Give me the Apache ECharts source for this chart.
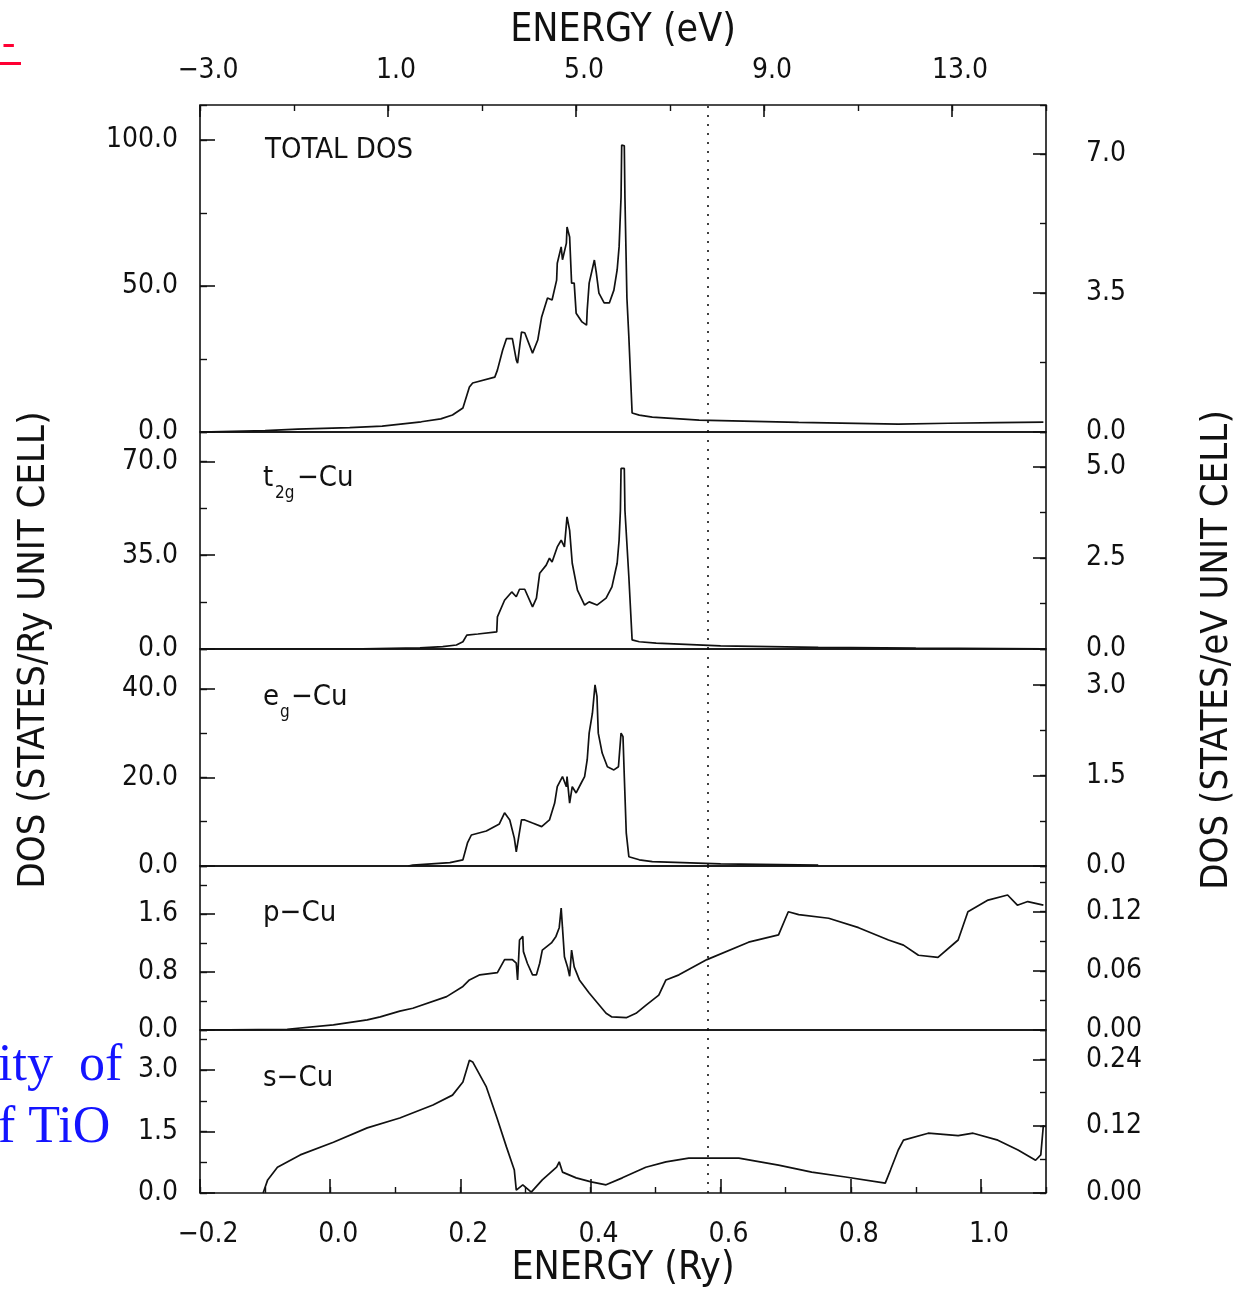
<!DOCTYPE html>
<html>
<head>
<meta charset="utf-8">
<title>Cu DOS</title>
<script src="https://cdn.jsdelivr.net/npm/echarts@6/dist/echarts.min.js"></script>
<style>
  html, body { margin: 0; padding: 0; background: #fff; }
  #chart { width: 1249px; height: 1289px; }
</style>
</head>
<body>
<div id="chart"></div>
<script>
// Conversion Ry -> eV and Fermi level (Ry)
const RY_TO_EV = 13.6057;
const FERMI_RY = 0.579;

// Energy axis range (Ry) and eV range of the upper axis
const ryRange = [-0.2, 1.1];
const evRange = [-3.0, 15.0];

// Densities of states, [energy (Ry), DOS (states/Ry unit cell)]
const totalDos = [
  [-0.20, 0.0], [-0.10, 0.5], [-0.05, 1.0], [0.03, 1.5], [0.08, 2.0], [0.14, 3.5], [0.17, 4.5],
  [0.188, 5.8], [0.204, 8.2], [0.214, 15.4], [0.219, 16.8], [0.253, 18.8], [0.257, 21.2],
  [0.265, 28.0], [0.271, 32.0], [0.280, 32.0], [0.286, 24.7], [0.288, 23.6], [0.294, 34.2],
  [0.299, 34.0], [0.311, 27.0], [0.314, 27.5], [0.319, 31.5], [0.325, 39.4], [0.334, 45.9],
  [0.341, 45.2], [0.348, 52.0], [0.349, 57.8], [0.355, 63.4], [0.357, 59.0], [0.363, 64.7],
  [0.364, 70.2], [0.368, 66.8], [0.371, 51.0], [0.375, 51.0], [0.378, 40.7], [0.387, 37.7],
  [0.394, 36.6], [0.395, 41.8], [0.398, 51.0], [0.406, 58.9], [0.409, 54.5], [0.413, 47.6],
  [0.421, 44.2], [0.429, 44.2], [0.436, 48.6], [0.441, 55.5], [0.444, 63.4], [0.447, 80.5],
  [0.448, 98.3], [0.452, 98.0], [0.453, 80.0], [0.456, 46.0], [0.459, 32.5], [0.464, 6.5],
  [0.475, 5.8], [0.495, 5.1], [0.567, 4.1], [0.72, 3.3], [0.873, 2.7], [0.95, 3.0],
  [1.026, 3.2], [1.096, 3.4]
];

const t2gDos = [
  [-0.20, 0.0], [0.05, 0.1], [0.138, 0.4], [0.173, 0.9], [0.194, 1.5], [0.204, 2.7],
  [0.210, 5.2], [0.227, 5.6], [0.256, 6.4], [0.257, 12.0], [0.268, 18.2], [0.279, 21.3],
  [0.286, 19.5], [0.291, 22.3], [0.299, 22.3], [0.311, 15.7], [0.317, 19.0], [0.322, 28.3],
  [0.332, 31.3], [0.337, 33.9], [0.341, 32.5], [0.349, 38.1], [0.355, 40.6], [0.360, 38.1],
  [0.364, 49.3], [0.368, 44.3], [0.372, 32.0], [0.380, 22.0], [0.391, 16.4], [0.398, 17.6],
  [0.410, 16.4], [0.424, 19.0], [0.433, 23.2], [0.441, 32.0], [0.444, 40.6], [0.446, 51.7],
  [0.447, 67.4], [0.452, 67.4], [0.453, 51.7], [0.459, 26.9], [0.464, 3.4], [0.475, 2.7],
  [0.501, 2.2], [0.60, 1.2], [0.75, 0.6], [0.90, 0.3], [1.096, 0.1]
];

const egDos = [
  [0.12, 0.0], [0.127, 0.2], [0.184, 0.75], [0.204, 1.4], [0.211, 5.2], [0.217, 7.0],
  [0.240, 7.9], [0.260, 9.5], [0.268, 12.0], [0.276, 10.4], [0.283, 6.3], [0.286, 3.2],
  [0.289, 3.2], [0.294, 10.4], [0.299, 10.4], [0.311, 9.7], [0.325, 8.9], [0.337, 10.4],
  [0.345, 14.2], [0.349, 17.9], [0.357, 20.2], [0.363, 17.9], [0.364, 20.2], [0.368, 14.2],
  [0.372, 17.9], [0.378, 16.5], [0.386, 18.8], [0.391, 20.2], [0.395, 24.0], [0.398, 30.0],
  [0.403, 34.5], [0.407, 40.9], [0.410, 38.3], [0.412, 30.0], [0.418, 25.5], [0.426, 22.4],
  [0.436, 21.7], [0.443, 22.4], [0.447, 30.0], [0.450, 29.2], [0.452, 20.2], [0.455, 7.5],
  [0.459, 2.1], [0.475, 1.4], [0.495, 1.0], [0.60, 0.5], [0.75, 0.2]
];

const pDos = [
  [-0.20, 0.0], [-0.066, 0.01], [0.005, 0.07], [0.057, 0.14], [0.077, 0.18], [0.107, 0.26],
  [0.127, 0.30], [0.179, 0.46], [0.204, 0.60], [0.214, 0.69], [0.230, 0.76], [0.257, 0.79],
  [0.268, 0.97], [0.280, 0.97], [0.286, 0.92], [0.288, 0.69], [0.291, 1.24], [0.296, 1.29],
  [0.297, 1.08], [0.303, 0.92], [0.311, 0.76], [0.317, 0.76], [0.322, 0.92], [0.326, 1.10],
  [0.340, 1.20], [0.347, 1.29], [0.352, 1.41], [0.355, 1.68], [0.357, 1.41], [0.360, 1.01],
  [0.365, 0.86], [0.368, 0.74], [0.371, 1.10], [0.374, 1.10], [0.375, 0.87], [0.383, 0.69],
  [0.398, 0.51], [0.424, 0.23], [0.433, 0.18], [0.455, 0.17], [0.470, 0.23], [0.485, 0.34],
  [0.505, 0.48], [0.516, 0.69], [0.536, 0.76], [0.579, 0.97], [0.643, 1.21], [0.689, 1.31],
  [0.704, 1.63], [0.720, 1.59], [0.766, 1.54], [0.812, 1.41], [0.858, 1.24], [0.881, 1.17],
  [0.904, 1.03], [0.934, 1.00], [0.965, 1.24], [0.980, 1.63], [1.011, 1.79], [1.041, 1.86],
  [1.056, 1.72], [1.072, 1.77], [1.096, 1.72]
];

const sDos = [
  [-0.103, 0.0], [-0.096, 0.32], [-0.081, 0.63], [-0.046, 0.93], [0.005, 1.24], [0.057, 1.59],
  [0.107, 1.83], [0.158, 2.15], [0.188, 2.39], [0.204, 2.71], [0.214, 3.24], [0.219, 3.20],
  [0.240, 2.59], [0.256, 1.85], [0.271, 1.12], [0.283, 0.56], [0.286, 0.07], [0.296, 0.20],
  [0.309, 0.02], [0.326, 0.32], [0.348, 0.63], [0.352, 0.76], [0.357, 0.51], [0.378, 0.37],
  [0.401, 0.27], [0.424, 0.20], [0.449, 0.37], [0.485, 0.63], [0.516, 0.76], [0.551, 0.85],
  [0.628, 0.85], [0.689, 0.68], [0.740, 0.51], [0.792, 0.39], [0.853, 0.24], [0.861, 0.56],
  [0.873, 1.05], [0.881, 1.29], [0.919, 1.46], [0.965, 1.40], [0.988, 1.46], [1.026, 1.29],
  [1.057, 1.05], [1.084, 0.80], [1.092, 0.93], [1.096, 1.66]
];

// Panel series and axis scales (states/Ry on the left, states/eV on the right)
const panelNames = ['TOTAL DOS', 't2g-Cu', 'eg-Cu', 'p-Cu', 's-Cu'];
const panelData = [totalDos, t2gDos, egDos, pDos, sDos];
const leftMax = [112, 81, 49, 2.26, 3.98];
const leftStep = [50, 35, 20, 0.8, 1.5];
const leftDigits = [1, 1, 1, 1, 1];
const rightStep = [3.5, 2.5, 1.5, 0.06, 0.12];
const rightDigits = [1, 1, 1, 2, 2];

const FONT = '"DejaVu Sans Condensed", "DejaVu Sans", sans-serif';
const SERIF = '"Liberation Serif", "DejaVu Serif", serif';
const INK = '#111';

// stacked panel frames: [top, height] in px
const frames = [[105, 327], [432, 217], [649, 217], [866, 164], [1030, 163]];
const PLOT_LEFT = 200, PLOT_WIDTH = 846;

function fmt(v, d) {
  const s = Math.abs(v).toFixed(d);
  return (v < -1e-9 ? '\u2212' : '') + s;
}

const grids = [], xAxes = [], yAxes = [], series = [];
const labelStyle = { color: INK, fontFamily: FONT, fontSize: 28 };
const hiddenLine = { show: false, onZero: false };

frames.forEach((f) => {
  grids.push({
    left: PLOT_LEFT, width: PLOT_WIDTH, top: f[0], height: f[1],
    show: true, borderColor: INK, borderWidth: 1.6, backgroundColor: 'transparent'
  });
});

// one value axis per panel for the energy in Ry
frames.forEach((f, i) => {
  const bottom = i === frames.length - 1;
  xAxes.push({
    gridIndex: i, type: 'value', position: 'bottom',
    min: ryRange[0], max: ryRange[1], interval: 0.2,
    show: bottom,
    axisLine: hiddenLine,
    axisTick: { show: true, inside: true, length: 14, lineStyle: { color: INK, width: 1.6 } },
    splitLine: { show: false },
    axisLabel: Object.assign({
      show: true, margin: 28, padding: [0, 0, 0, 16], showMaxLabel: false,
      formatter: v => fmt(v, 1)
    }, labelStyle)
  });
});
// minor ticks on the Ry axis
xAxes.push({
  gridIndex: frames.length - 1, type: 'value', position: 'bottom',
  min: ryRange[0], max: ryRange[1], interval: 0.1,
  axisLine: hiddenLine,
  axisTick: { show: true, inside: true, length: 6, lineStyle: { color: INK, width: 1.4 } },
  axisLabel: { show: false }, splitLine: { show: false }
});
// upper eV axis (offset so the ticks start at the lower bound)
const evSpan = evRange[1] - evRange[0];
xAxes.push({
  gridIndex: 0, type: 'value', position: 'top',
  min: 0, max: evSpan, interval: 4,
  axisLine: hiddenLine,
  axisTick: { show: true, inside: true, length: 12, lineStyle: { color: INK, width: 1.6 } },
  splitLine: { show: false },
  axisLabel: Object.assign({
    margin: 20, padding: [0, 0, 0, 16], showMaxLabel: false,
    formatter: v => fmt(v + evRange[0], 1)
  }, labelStyle)
});
xAxes.push({
  gridIndex: 0, type: 'value', position: 'top',
  min: 0, max: evSpan, interval: 2,
  axisLine: hiddenLine,
  axisTick: { show: true, inside: true, length: 6, lineStyle: { color: INK, width: 1.4 } },
  axisLabel: { show: false }, splitLine: { show: false }
});

frames.forEach((f, i) => {
  const rMax = leftMax[i] / RY_TO_EV;
  // left: states/Ry
  yAxes.push({
    gridIndex: i, type: 'value', position: 'left', min: 0, max: leftMax[i], interval: leftStep[i],
    axisLine: hiddenLine, splitLine: { show: false },
    axisTick: { show: true, inside: true, length: 15, lineStyle: { color: INK, width: 1.6 } },
    axisLabel: Object.assign({ margin: 22, showMaxLabel: false, formatter: v => fmt(v, leftDigits[i]) }, labelStyle)
  });
  yAxes.push({
    gridIndex: i, type: 'value', position: 'left', min: 0, max: leftMax[i], interval: leftStep[i] / 2,
    axisLine: hiddenLine, splitLine: { show: false },
    axisTick: { show: true, inside: true, length: 7, lineStyle: { color: INK, width: 1.4 } },
    axisLabel: { show: false }
  });
  // right: states/eV
  yAxes.push({
    gridIndex: i, type: 'value', position: 'right', min: 0, max: rMax, interval: rightStep[i],
    axisLine: hiddenLine, splitLine: { show: false },
    axisTick: { show: true, inside: true, length: 13, lineStyle: { color: INK, width: 1.6 } },
    axisLabel: Object.assign({ margin: 40, showMaxLabel: false, formatter: v => fmt(v, rightDigits[i]) }, labelStyle)
  });
  yAxes.push({
    gridIndex: i, type: 'value', position: 'right', min: 0, max: rMax, interval: rightStep[i] / 2,
    axisLine: hiddenLine, splitLine: { show: false },
    axisTick: { show: true, inside: true, length: 6, lineStyle: { color: INK, width: 1.4 } },
    axisLabel: { show: false }
  });

  series.push({
    type: 'line', name: panelNames[i],
    xAxisIndex: i, yAxisIndex: 4 * i,
    data: panelData[i],
    showSymbol: false, smooth: false, clip: true,
    lineStyle: { color: INK, width: 1.7 },
    animation: false,
    markLine: {
      silent: true, symbol: 'none', animation: false,
      label: { show: false },
      lineStyle: { color: INK, width: 1.6, type: [2, 7] },
      data: [{ xAxis: FERMI_RY }]
    }
  });
});

// free-standing captions
function txt(text, x, y, size, extra) {
  extra = extra || {};
  return {
    type: 'text', x: x, y: y, silent: true,
    rotation: extra.rotation || 0,
    style: Object.assign({
      text: text, fill: INK, fontFamily: FONT, fontSize: size,
      textAlign: 'left', textVerticalAlign: 'middle'
    }, extra.style || {})
  };
}

const centred = { textAlign: 'center' };
const graphic = [
  // axis titles
  txt('ENERGY (eV)', 623, 31, 39, { style: centred }),
  txt('ENERGY (Ry)', 623, 1269, 39, { style: centred }),
  txt('DOS (STATES/Ry UNIT CELL)', 34, 650, 38, { rotation: Math.PI / 2, style: centred }),
  txt('DOS (STATES/eV UNIT CELL)', 1217, 650, 38, { rotation: Math.PI / 2, style: centred }),
  // panel captions
  txt('TOTAL DOS', 265, 150, 29),
  txt('t', 263, 478, 29),
  txt('2g', 275, 494, 17),
  txt('\u2212Cu', 297, 478, 29),
  txt('e', 263, 697, 29),
  txt('g', 280, 713, 17),
  txt('\u2212Cu', 291, 697, 29),
  txt('p\u2212Cu', 263, 913, 29),
  txt('s\u2212Cu', 263, 1078, 29),
  // fragments of the surrounding page text
  txt('ity  of', -2, 1066, 52, { style: { fill: '#1414ff', fontFamily: SERIF } }),
  txt('f TiO', -2, 1128, 52, { style: { fill: '#1414ff', fontFamily: SERIF } }),
  txt('-', 2, 44, 40, { style: { fill: '#ff0033', fontFamily: SERIF } }),
  { type: 'rect', silent: true, shape: { x: 0, y: 62, width: 21, height: 3 }, style: { fill: '#ff0033' } }
];

const chart = echarts.init(document.getElementById('chart'));
chart.setOption({
  backgroundColor: '#fff',
  animation: false,
  grid: grids,
  xAxis: xAxes,
  yAxis: yAxes,
  series: series,
  graphic: graphic
});
</script>
</body>
</html>
